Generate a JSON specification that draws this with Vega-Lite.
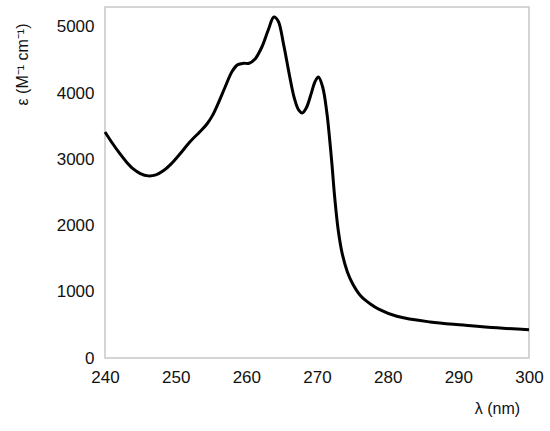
{
  "$schema": "https://vega.github.io/schema/vega-lite/v6.json",
  "autosize": {"type": "none"},
  "width": 424,
  "height": 351,
  "padding": {"left": 105, "top": 7, "right": 21, "bottom": 73},
  "background": "white",
  "config": {
    "view": {"stroke": "#c8c8c8", "strokeWidth": 1.5},
    "font": "Liberation Sans",
    "axis": {
      "domain": false,
      "ticks": false,
      "grid": false,
      "labelFont": "Liberation Sans",
      "labelFontSize": 17,
      "labelColor": "#111111",
      "labelFlush": false,
      "labelOverlap": false,
      "titleFont": "Liberation Sans",
      "titleFontWeight": "normal",
      "titleColor": "#111111"
    }
  },
  "data": {
    "values": [
      {"wl": 240.0, "eps": 3413},
      {"wl": 241.0, "eps": 3250},
      {"wl": 242.0, "eps": 3100},
      {"wl": 243.0, "eps": 2965},
      {"wl": 244.0, "eps": 2855},
      {"wl": 245.0, "eps": 2785},
      {"wl": 246.1, "eps": 2750},
      {"wl": 247.2, "eps": 2765},
      {"wl": 248.3, "eps": 2830},
      {"wl": 249.4, "eps": 2935},
      {"wl": 250.6, "eps": 3080},
      {"wl": 252.0, "eps": 3262},
      {"wl": 253.4, "eps": 3413},
      {"wl": 254.4, "eps": 3530},
      {"wl": 255.2, "eps": 3660},
      {"wl": 256.0, "eps": 3840},
      {"wl": 257.0, "eps": 4092},
      {"wl": 258.0, "eps": 4330},
      {"wl": 258.8, "eps": 4430},
      {"wl": 259.6, "eps": 4450},
      {"wl": 260.4, "eps": 4450},
      {"wl": 261.2, "eps": 4510},
      {"wl": 262.2, "eps": 4696},
      {"wl": 263.1, "eps": 4953},
      {"wl": 263.9, "eps": 5149},
      {"wl": 264.5, "eps": 5090},
      {"wl": 265.3, "eps": 4720},
      {"wl": 266.1, "eps": 4270},
      {"wl": 266.8, "eps": 3920},
      {"wl": 267.4, "eps": 3745},
      {"wl": 267.9, "eps": 3700},
      {"wl": 268.5, "eps": 3780},
      {"wl": 269.2, "eps": 4000},
      {"wl": 269.7, "eps": 4168},
      {"wl": 270.2, "eps": 4243},
      {"wl": 270.8, "eps": 4092},
      {"wl": 271.4, "eps": 3700},
      {"wl": 271.8, "eps": 3292},
      {"wl": 272.1, "eps": 2945},
      {"wl": 272.5, "eps": 2431},
      {"wl": 273.0, "eps": 1933},
      {"wl": 273.6, "eps": 1560},
      {"wl": 274.3, "eps": 1300},
      {"wl": 275.1, "eps": 1110},
      {"wl": 276.2, "eps": 935},
      {"wl": 277.5, "eps": 820},
      {"wl": 278.8, "eps": 735},
      {"wl": 281.3, "eps": 630},
      {"wl": 286.0, "eps": 544},
      {"wl": 290.7, "eps": 498},
      {"wl": 295.5, "eps": 455},
      {"wl": 300.0, "eps": 425}
    ]
  },
  "mark": {"type": "line", "color": "#000000", "strokeWidth": 3, "interpolate": "catmull-rom"},
  "encoding": {
    "x": {
      "field": "wl",
      "type": "quantitative",
      "scale": {"domain": [240, 300], "nice": false, "zero": false},
      "axis": {
        "values": [240, 250, 260, 270, 280, 290, 300],
        "format": "d",
        "labelPadding": 11,
        "title": "λ (nm)",
        "titleFontSize": 16,
        "titleX": 392,
        "titleY": 50,
        "titleAlign": "center",
        "titleBaseline": "middle"
      }
    },
    "y": {
      "field": "eps",
      "type": "quantitative",
      "scale": {"domain": [0, 5300], "nice": false},
      "axis": {
        "values": [0, 1000, 2000, 3000, 4000, 5000],
        "format": "d",
        "labelPadding": 11,
        "title": "ε (M⁻¹ cm⁻¹)",
        "titleFontSize": 16,
        "titleAngle": -90,
        "titleX": -83,
        "titleY": 57,
        "titleAlign": "center",
        "titleBaseline": "middle"
      }
    }
  }
}
